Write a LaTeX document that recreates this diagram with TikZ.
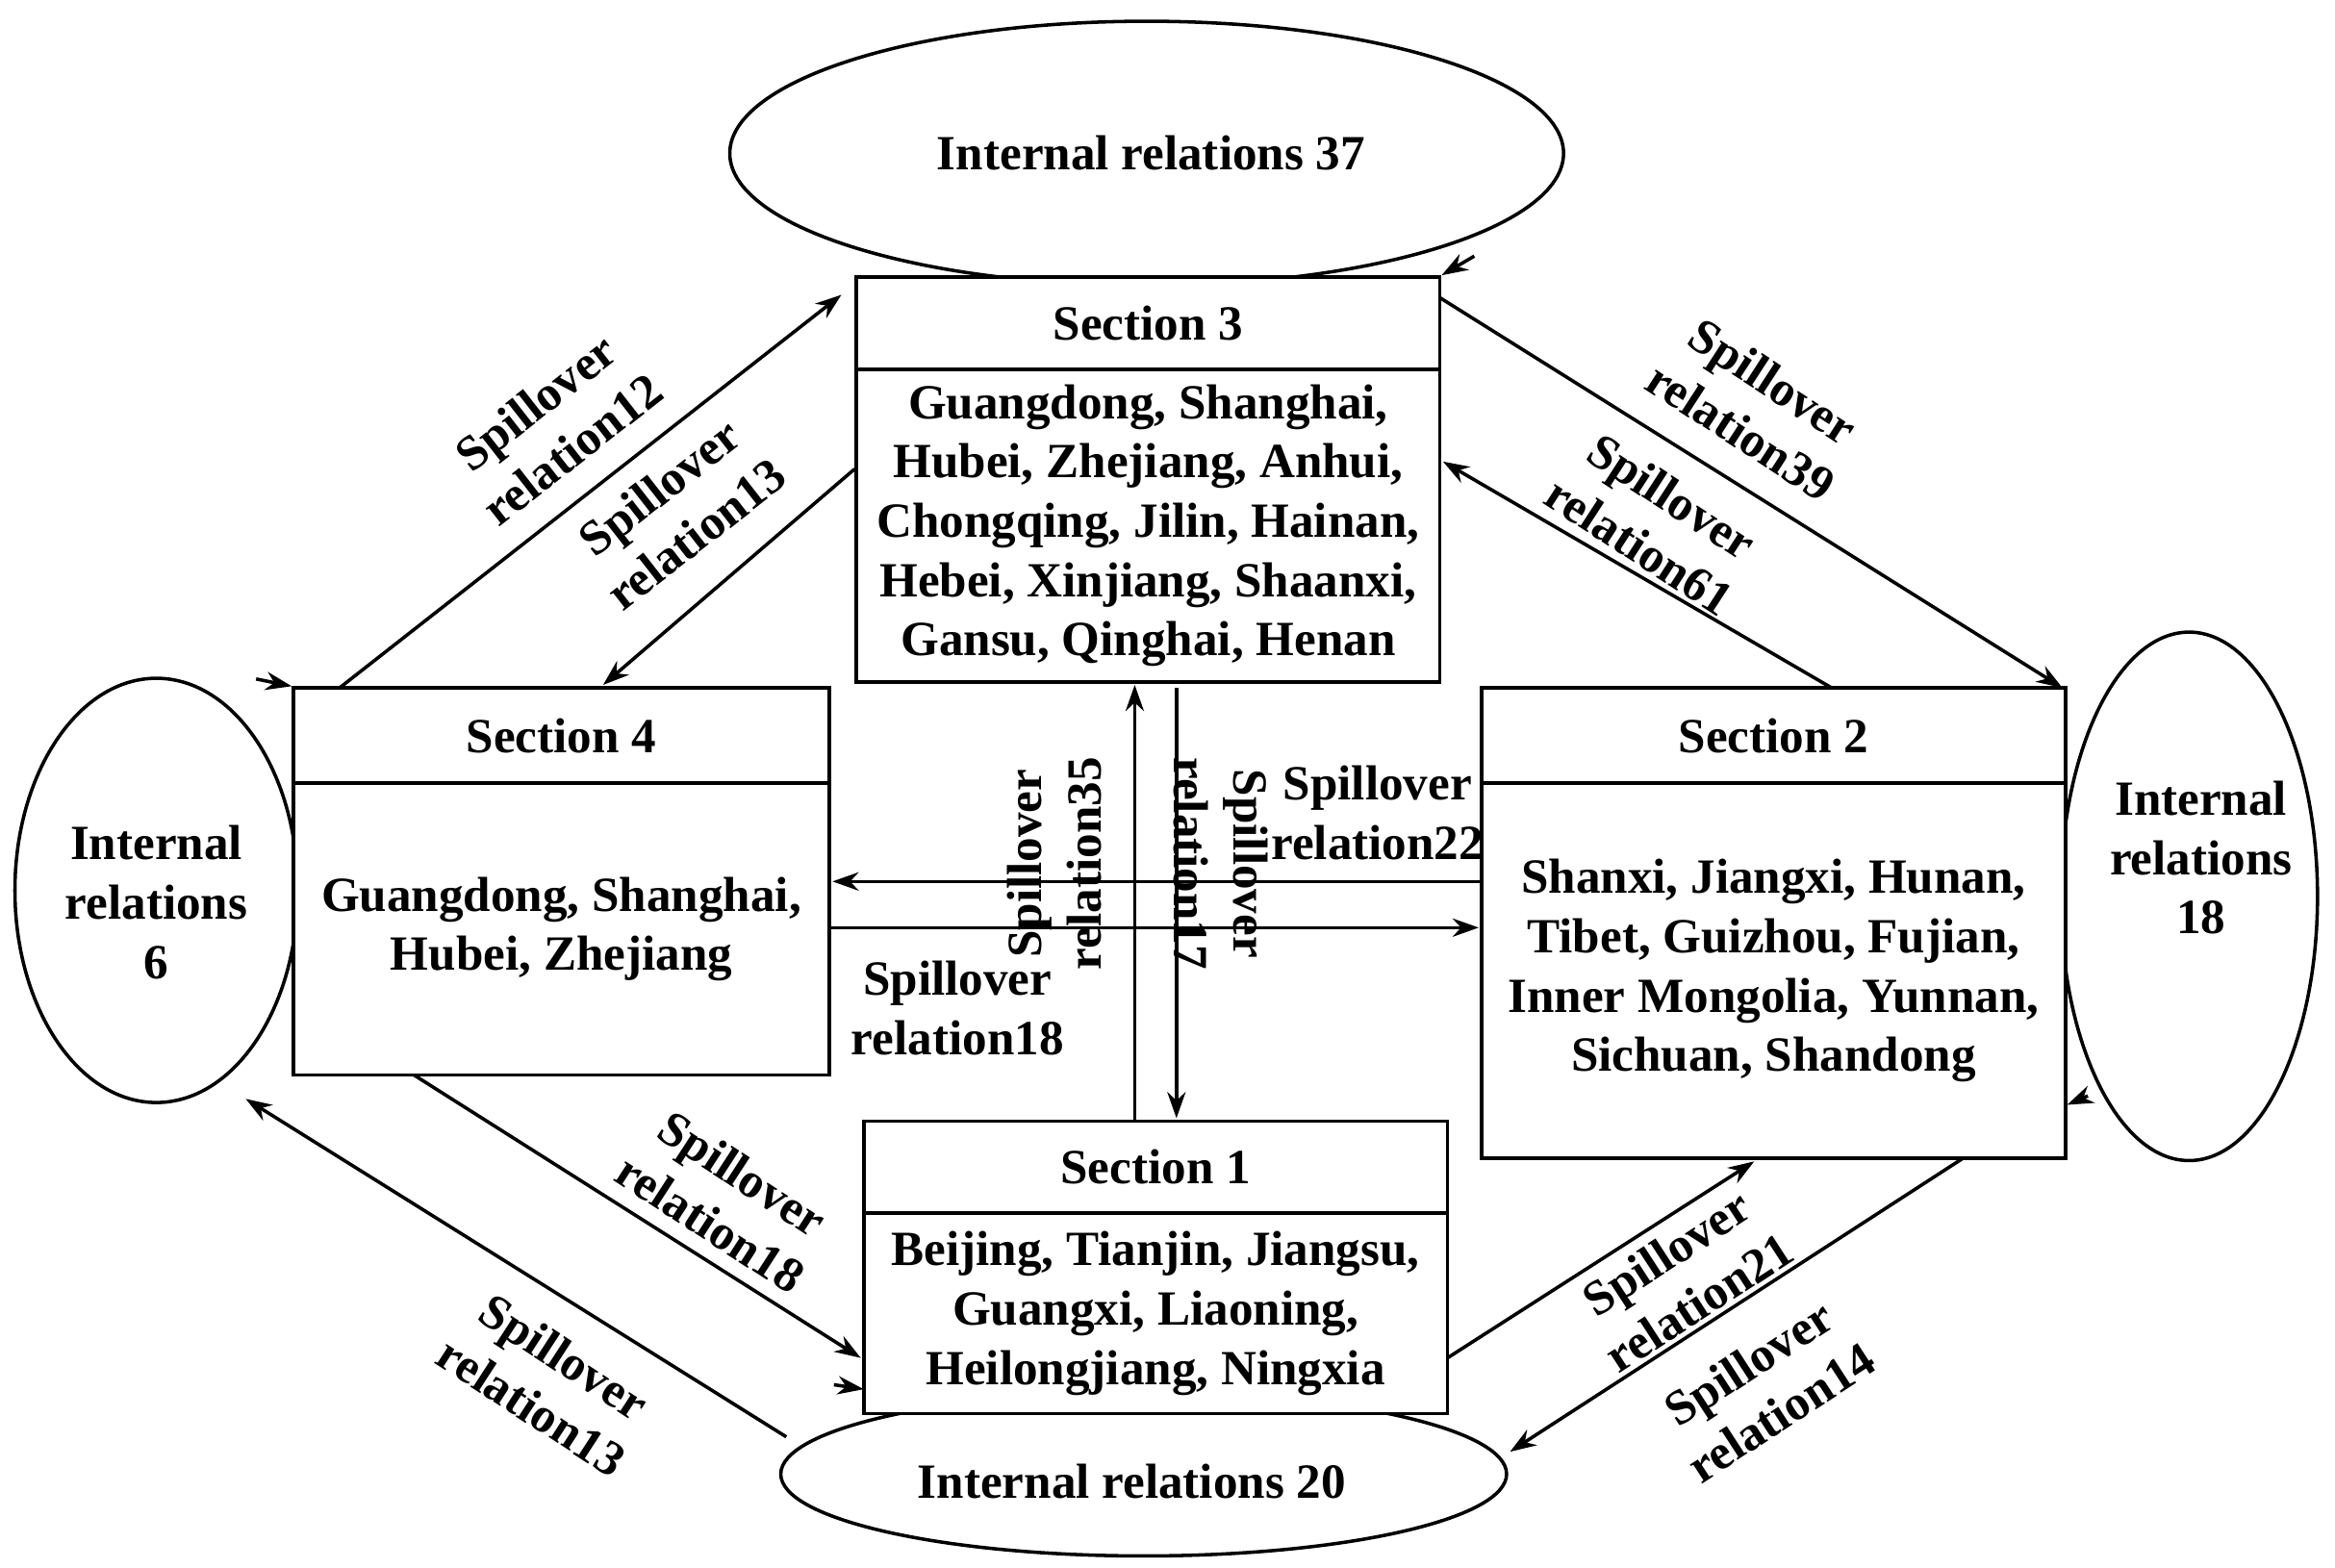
\documentclass[tikz,border=0pt]{standalone}
\usepackage{fontspec}
\setmainfont{Liberation Serif}
\usetikzlibrary{shapes.geometric,arrows.meta}
\begin{document}
\begin{tikzpicture}[x=0.02cm,y=-0.02cm,line width=1.3pt,
  txt/.style={font=\bfseries\fontsize{18.8}{22.7}\selectfont,align=center},
  loop/.style={ellipse,draw,fill=white,inner sep=0pt},
  head/.style={draw,fill=white,txt,inner sep=0pt},
  body/.style={draw,fill=white,txt,inner sep=0pt},
  spill/.style={-{Stealth[length=10pt,width=7pt]}},
  lab/.style={txt,inner sep=1pt}]
\useasboundingbox (0,0) rectangle (1568,1053);

% ellipses
\node[loop,minimum width=11.2cm,minimum height=3.55cm] (in37) at (770,103) {};
\node[txt] (t37) at (773,103) {Internal relations 37};
\node[loop,minimum width=3.8cm,minimum height=5.7cm] (in6) at (105,598) {};
\node[txt] (t6) at (105,606) {Internal\\relations\\6};
\node[loop,minimum width=3.45cm,minimum height=7.1cm] (in18) at (1470,602) {};
\node[txt] (t18) at (1478,576) {Internal\\relations\\18};
\node[loop,minimum width=9.75cm,minimum height=2.2cm] (in20) at (768,990) {};
\node[txt] (t20) at (760,995) {Internal relations 20};

% sections
\node[head,minimum width=7.84cm,minimum height=1.24cm] (s3h) at (771,217) {Section 3};
\node[body,minimum width=7.84cm,minimum height=4.2cm] (s3) at (771,353)
  {Guangdong, Shanghai,\\Hubei, Zhejiang, Anhui,\\Chongqing, Jilin, Hainan,\\Hebei, Xinjiang, Shaanxi,\\Gansu, Qinghai, Henan};
\node[head,minimum width=7.2cm,minimum height=1.28cm] (s4h) at (377,494) {Section 4};
\node[body,minimum width=7.2cm,minimum height=3.92cm] (s4) at (377,624) {Guangdong, Shanghai,\\Hubei, Zhejiang};
\node[head,minimum width=7.84cm,minimum height=1.28cm] (s2h) at (1191,494) {Section 2};
\node[body,minimum width=7.84cm,minimum height=5.04cm] (s2) at (1191,652)
  {Shanxi, Jiangxi, Hunan,\\Tibet, Guizhou, Fujian,\\Inner Mongolia, Yunnan,\\Sichuan, Shandong};
\node[head,minimum width=7.84cm,minimum height=1.24cm] (s1h) at (776,784) {Section 1};
\node[body,minimum width=7.84cm,minimum height=2.7cm] (s1) at (776,882)
  {Beijing, Tianjin, Jiangsu,\\Guangxi, Liaoning,\\Heilongjiang, Ningxia};

% loop tips
\coordinate (a37) at (990,172);
\coordinate (a6) at (172,456);
\coordinate (a18) at (1402,736);
\coordinate (a20) at (560,930);
\draw[spill] (a37) -- (s3h.north east);
\draw[spill] (a6) -- (s4h.north west);
\draw[spill] (a18) -- (s2.south east |- 0,742);
\draw[spill] (a20) -- (580,933);

% connectors
\draw[spill] (228,462) -- (565,198);
\draw[spill] (s3.west |- 0,315) -- (405,460);
\draw[spill] (967,200) -- (1385,462);
\draw[spill] (1230,462) -- (969,310);
\draw[spill] (762,753) -- (762,460);
\draw[spill] (790,462) -- (790,751);
\draw[spill] (995,592) -- (559,592);
\draw[spill] (557,623) -- (993,623);
\draw[spill] (278,722) -- (578,912);
\draw[spill] (528,965) -- (165,738);
\draw[spill] (972,912) -- (1178,780);
\draw[spill] (1318,778) -- (1014,975);

% labels
\node[lab,rotate=38] (l12) at (372,286) {Spillover\\relation12};
\node[lab,rotate=38] (l13a) at (455,343) {Spillover\\relation13};
\node[lab,rotate=-33] (l39) at (1180,273) {Spillover\\relation39};
\node[lab,rotate=-33] (l61) at (1112,350) {Spillover\\relation61};
\node[lab,rotate=90] (l35) at (708,580) {Spillover\\relation35};
\node[lab,rotate=-90] (l17) at (820,580) {Spillover\\relation17};
\node[lab] (l22) at (925,546) {Spillover\\relation22};
\node[lab] (l18a) at (643,677) {Spillover\\relation18};
\node[lab,rotate=-33] (l18b) at (488,805) {Spillover\\relation18};
\node[lab,rotate=-33] (l13b) at (368,928) {Spillover\\relation13};
\node[lab,rotate=33] (l21) at (1130,858) {Spillover\\relation21};
\node[lab,rotate=33] (l14) at (1185,932) {Spillover\\relation14};
\end{tikzpicture}
\end{document}
